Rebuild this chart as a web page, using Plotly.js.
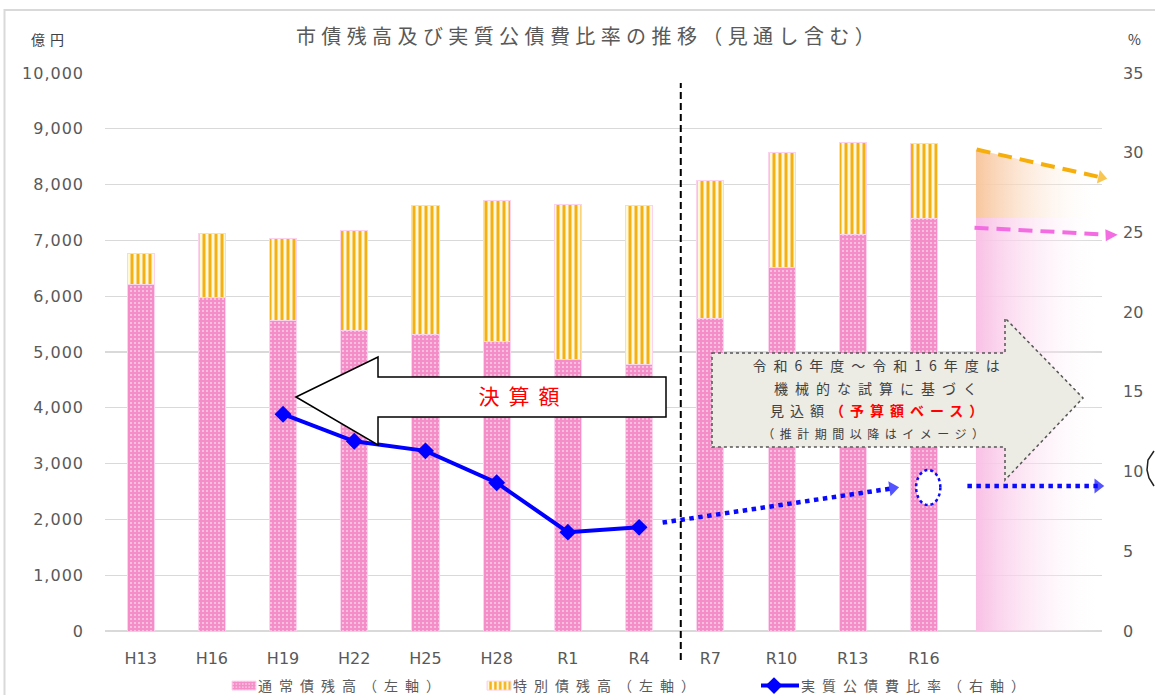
<!DOCTYPE html>
<html>
<head>
<meta charset="utf-8">
<script src="https://cdn.plot.ly/plotly-3.0.1.min.js"></script>
<style>
  html, body { margin: 0; padding: 0; background: #ffffff; }
  #chart { width: 1155px; height: 695px; }
  .gtitle { letter-spacing: 5.4px; }
  .legendtext, .legend2text, .legend3text { letter-spacing: 7px; }
  .ytick text { letter-spacing: 1px; }
  .annotation[data-index="0"] .annotation-text { letter-spacing: 5px; }
  .annotation[data-index="2"] .annotation-text { letter-spacing: 9px; }
  .annotation[data-index="3"] .annotation-text { letter-spacing: 7px; }
  .annotation[data-index="4"] .annotation-text { letter-spacing: 7px; }
  .annotation[data-index="5"] .annotation-text { letter-spacing: 6px; }
  .annotation[data-index="6"] .annotation-text { letter-spacing: 5.5px; }
</style>
</head>
<body>
<div id="chart"></div>
<script>
// ---------------- data ----------------
const categories = ['H13', 'H16', 'H19', 'H22', 'H25', 'H28', 'R1', 'R4', 'R7', 'R10', 'R13', 'R16'];
const normalDebt = [6210, 5970, 5560, 5390, 5320, 5190, 4870, 4770, 5600, 6510, 7110, 7400];   // 通常債残高 (億円)
const specialDebt = [550, 1150, 1470, 1780, 2300, 2530, 2780, 2850, 2480, 2060, 1640, 1340];   // 特別債残高 (億円)
const ratioYears = ['H19', 'H22', 'H25', 'H28', 'R1', 'R4'];
const ratio = [13.6, 11.9, 11.3, 9.3, 6.2, 6.5];                                             // 実質公債費比率 (%)
const projectedRatio = [6.8, 8.95];    // 見込 (dotted arrow R4 -> R16)
const imageRatio = [9.1, 9.1];         // イメージ (after R16)
const imageSpecialTop = [30.2, 28.45]; // イメージ: 特別債 dashed arrow (right axis scale)
const imageNormalTop = [25.3, 24.85];  // イメージ: 通常債 dashed arrow (right axis scale)
const leftTicks = [0, 1000, 2000, 3000, 4000, 5000, 6000, 7000, 8000, 9000, 10000];
const rightTicks = [0, 5, 10, 15, 20, 25, 30, 35];

// ---------------- layout helpers ----------------
const W = 1155, H = 695;
const M = { l: 105, r: 53, t: 73, b: 64, autoexpand: false };
const PW = W - M.l - M.r, PH = H - M.t - M.b;
const px = x => (x - M.l) / PW;          // pixel -> paper x
const py = y => (H - M.b - y) / PH;      // pixel -> paper y
const XR = [-0.5, 13.5], Y2R = [0, 35];
const pxPerX = PW / (XR[1] - XR[0]), pxPerY2 = PH / (Y2R[1] - Y2R[0]);
const xPaper = x => (x - XR[0]) / (XR[1] - XR[0]);
const y2Paper = y => (y - Y2R[0]) / (Y2R[1] - Y2R[0]);
// arrowhead angle (degrees, clockwise) from a segment drawn on x / y2 axes
const headAngle = (xs, ys) => Math.atan2(-(ys[1] - ys[0]) * pxPerY2, (xs[1] - xs[0]) * pxPerX) * 180 / Math.PI;

const JP = '"Noto Sans CJK JP", "Noto Sans", sans-serif';
const NUM = '"DejaVu Sans", Verdana, sans-serif';
const GRAY = '#595959';

const xIdx = categories.map((c, i) => i);
const ratioX = ratioYears.map(y => categories.indexOf(y));

function arrowTrace(xs, ys, color, width, dash, size) {
  return {
    type: 'scatter', x: xs, y: ys, yaxis: 'y2', mode: 'lines+markers',
    line: { color: color, width: width, dash: dash },
    marker: { symbol: 'triangle-right', size: [0, size], angle: [0, headAngle(xs, ys)], color: color, line: { width: 0 } },
    cliponaxis: false, hoverinfo: 'skip', showlegend: false
  };
}

const projX = [7.33, 10.56], imageX = [11.61, 13.44], specialX = [11.74, 13.49], normalX = [11.71, 13.62];

const normalLine = arrowTrace(normalX, imageNormalTop, '#f36ce2', 4, '14px,8px', 12);
normalLine.mode = 'lines';

const traces = [
  // fading image region for 通常債 (pink)
  {
    type: 'scatter', x: [11.73, 13.5, 13.5, 11.73], y: [0, 0, 25.9, 25.9], yaxis: 'y2',
    mode: 'lines', fill: 'toself', line: { width: 0 },
    fillgradient: { type: 'horizontal', colorscale: [[0, 'rgba(249,192,229,1)'], [1, 'rgba(255,255,255,0)']] },
    hoverinfo: 'skip', showlegend: false
  },
  // fading image region for 特別債 (orange)
  {
    type: 'scatter', x: [11.73, 13.5, 13.5, 11.73], y: [30.2, 28.4, 25.9, 25.9], yaxis: 'y2',
    mode: 'lines', fill: 'toself', line: { width: 0 },
    fillgradient: { type: 'horizontal', colorscale: [[0, 'rgba(248,198,158,1)'], [1, 'rgba(255,255,255,0)']] },
    hoverinfo: 'skip', showlegend: false
  },
  {
    type: 'bar', name: '通常債残高（左軸）', x: xIdx, y: normalDebt, width: 0.38, legend: 'legend',
    marker: {
      color: '#f58ec8',
      line: { color: '#fbd3ee', width: 1 },
      pattern: { shape: '.', bgcolor: '#f58ec8', fgcolor: '#ffffff', size: 4, solidity: 0.13, fillmode: 'replace' }
    },
    hoverinfo: 'skip'
  },
  {
    type: 'bar', name: '特別債残高（左軸）', x: xIdx, y: specialDebt, width: 0.38, legend: 'legend2',
    marker: {
      color: '#f6b21a',
      line: { color: '#fbd3ee', width: 1 },
      pattern: { shape: '|', bgcolor: '#fff9dc', fgcolor: '#f5b014', size: 6, solidity: 0.5, fillmode: 'replace' }
    },
    hoverinfo: 'skip'
  },
  {
    type: 'scatter', name: '実質公債費比率（右軸）', x: ratioX, y: ratio, yaxis: 'y2', legend: 'legend3',
    mode: 'lines+markers',
    line: { color: '#0000ff', width: 4 },
    marker: { symbol: 'diamond', size: 13, color: '#0000ff' },
    hoverinfo: 'skip'
  },
  arrowTrace(projX, projectedRatio, '#0a0aff', 4.5, 'dot', 13),
  arrowTrace(imageX, imageRatio, '#0a0aff', 4.5, 'dot', 13),
  arrowTrace(specialX, imageSpecialTop, '#f5ae0a', 4, '14px,8px', 12),
  normalLine
];

const arrowLeft = 'M' + px(296) + ',' + py(397) +
  ' L' + px(378) + ',' + py(357) + ' L' + px(378) + ',' + py(377) +
  ' L' + px(666) + ',' + py(377) + ' L' + px(666) + ',' + py(417) +
  ' L' + px(378) + ',' + py(417) + ' L' + px(378) + ',' + py(445) + ' Z';

const callout = 'M' + px(712) + ',' + py(353) +
  ' L' + px(1005) + ',' + py(353) + ' L' + px(1005) + ',' + py(318) +
  ' L' + px(1083) + ',' + py(398) + ' L' + px(1005) + ',' + py(480) +
  ' L' + px(1005) + ',' + py(447) + ' L' + px(712) + ',' + py(447) + ' Z';

const bracket = 'M' + px(1154) + ',' + py(451) + ' L' + px(1148) + ',' + py(460) +
  ' L' + px(1147) + ',' + py(470) + ' L' + px(1149) + ',' + py(478) + ' L' + px(1154) + ',' + py(486);

const shapes = [
  { type: 'rect', xref: 'paper', yref: 'paper', x0: px(4.5), x1: px(1162), y0: py(702), y1: py(10),
    line: { color: '#d9d9d9', width: 2 }, fillcolor: 'rgba(0,0,0,0)', layer: 'below' },
  { type: 'line', xref: 'x', yref: 'paper', x0: 7.585, x1: 7.585, y0: py(660), y1: py(83),
    line: { color: '#000000', width: 2, dash: '7px,4px' }, layer: 'above' },
  { type: 'path', xref: 'paper', yref: 'paper', path: arrowLeft,
    fillcolor: '#ffffff', line: { color: '#000000', width: 1.5 }, layer: 'above' },
  { type: 'path', xref: 'paper', yref: 'paper', path: callout,
    fillcolor: '#ecebe4', line: { color: '#555555', width: 1.5, dash: 'dot' }, layer: 'above' },
  { type: 'circle', xref: 'x', yref: 'y2', x0: 10.89, x1: 11.23, y0: 7.9, y1: 10.1,
    fillcolor: '#ffffff', line: { color: '#0a0aff', width: 2.5, dash: 'dot' }, layer: 'above' },
  { type: 'path', xref: 'paper', yref: 'paper', path: bracket,
    line: { color: '#222222', width: 1.5 }, layer: 'above' }
];

const ann = (text, x, y, size, color) => ({
  text: text, xref: 'paper', yref: 'paper', x: px(x), y: py(y),
  xanchor: 'center', yanchor: 'middle', showarrow: false,
  font: { family: JP, size: size, color: color }
});

const annotations = [
  ann('億円', 50, 39, 14, '#404040'),
  ann('%', 1134, 39, 14, '#404040'),
  ann('決算額', 523, 395, 21, '#ff0000'),
  ann('令和6年度～令和16年度は', 879, 365, 14, '#404040'),
  ann('機械的な試算に基づく', 879, 388, 14, '#404040'),
  ann('見込額<b><span style="color:#ff0000">（予算額ベース）</span></b>', 879, 410, 14, '#404040'),
  ann('（推計期間以降はイメージ）', 876, 433, 12, '#404040'),
  // arrowhead of the pink (通常債) image arrow, which reaches past the plot edge
  {
    text: '', xref: 'paper', yref: 'paper', x: xPaper(normalX[1] + 0.1), y: y2Paper(imageNormalTop[1]),
    axref: 'pixel', ayref: 'pixel', ax: -10, ay: 0.4,
    showarrow: true, arrowhead: 2, arrowsize: 1.1, arrowwidth: 2.2, arrowcolor: '#f36ce2', standoff: 0
  }
];

const legendBase = {
  orientation: 'h', xref: 'paper', yref: 'paper', xanchor: 'left', y: py(686), yanchor: 'middle',
  font: { family: JP, size: 14, color: GRAY }, bgcolor: 'rgba(0,0,0,0)', itemwidth: 30
};

const layout = {
  width: W, height: H,
  margin: M,
  paper_bgcolor: '#ffffff', plot_bgcolor: '#ffffff',
  barmode: 'stack',
  title: {
    text: '市債残高及び実質公債費比率の推移（見通し含む）',
    x: 588 / W, xref: 'container', xanchor: 'center',
    y: 1 - 37 / H, yref: 'container', yanchor: 'middle',
    font: { family: JP, size: 20, color: GRAY }
  },
  xaxis: {
    range: XR, tickvals: xIdx, ticktext: categories,
    showgrid: false, zeroline: false, showline: false, ticks: '',
    ticklabelstandoff: 16,
    tickfont: { family: NUM, size: 16, color: GRAY }, fixedrange: true
  },
  yaxis: {
    range: [0, 10000], tickvals: leftTicks, tickformat: ',d',
    showgrid: true, gridcolor: '#d9d9d9', gridwidth: 1.3,
    zeroline: true, zerolinecolor: '#d9d9d9', zerolinewidth: 1.3,
    showline: false, ticks: '', ticklabelstandoff: 20,
    tickfont: { family: NUM, size: 16, color: GRAY }, fixedrange: true
  },
  yaxis2: {
    range: Y2R, tickvals: rightTicks, overlaying: 'y', side: 'right',
    showgrid: false, zeroline: false, showline: false, ticks: '', ticklabelstandoff: 20,
    tickfont: { family: NUM, size: 16, color: GRAY }, fixedrange: true
  },
  legend: Object.assign({}, legendBase, { x: px(218) }),
  legend2: Object.assign({}, legendBase, { x: px(473) }),
  legend3: Object.assign({}, legendBase, { x: px(761) }),
  shapes: shapes,
  annotations: annotations,
  showlegend: true
};

const gd = document.getElementById('chart');
function polish() {
  // wider, flatter legend swatches for the bar series (sit right before the text)
  gd.querySelectorAll('.legendpoints path').forEach(p => {
    const d = p.getAttribute('d') || '';
    if (/^M6,6H-6V-6H6Z$/.test(d)) p.setAttribute('d', 'M18,4.5H-6V-4.5H18Z');
  });
  // longer line sample for the ratio series
  gd.querySelectorAll('.legend3 .legendlines path, .legend3 path.js-line').forEach(p => {
    p.setAttribute('d', 'M-11,0h49');
  });
  gd.querySelectorAll('.legend3 .legendsymbols path.scatterpts').forEach(p => {
    p.setAttribute('transform', 'translate(13,0)');
  });
}
Plotly.newPlot(gd, traces, layout, { staticPlot: true, displayModeBar: false }).then(function () {
  polish();
  setTimeout(polish, 50);
});
</script>
</body>
</html>
